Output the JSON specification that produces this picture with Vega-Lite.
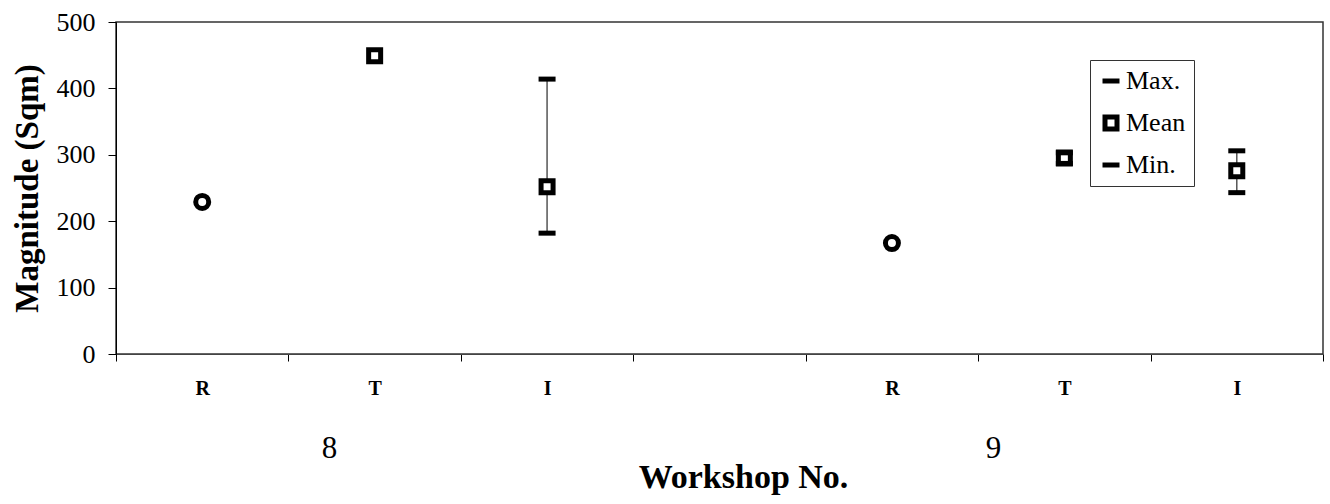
{
  "$schema": "https://vega.github.io/schema/vega-lite/v6.json",
  "width": 1207,
  "height": 332,
  "autosize": "none",
  "padding": {"left": 116, "top": 22, "right": 7, "bottom": 150},
  "background": "white",
  "config": {
    "font": "Liberation Serif",
    "view": {"stroke": "#333", "strokeWidth": 1.5}
  },
  "datasets": {
    "stats": [
      {"slot": "8R", "stat": "Value", "value": 229},
      {"slot": "8T", "stat": "Mean", "value": 449},
      {"slot": "8I", "stat": "Max.", "value": 414},
      {"slot": "8I", "stat": "Mean", "value": 252},
      {"slot": "8I", "stat": "Min.", "value": 182},
      {"slot": "9R", "stat": "Value", "value": 167},
      {"slot": "9T", "stat": "Max.", "value": 303},
      {"slot": "9T", "stat": "Mean", "value": 295},
      {"slot": "9T", "stat": "Min.", "value": 287},
      {"slot": "9I", "stat": "Max.", "value": 306},
      {"slot": "9I", "stat": "Mean", "value": 276},
      {"slot": "9I", "stat": "Min.", "value": 243}
    ],
    "workshops": [
      {"workshop": "8", "center": 1.235},
      {"workshop": "9", "center": 5.086}
    ]
  },
  "layer": [
    {
      "data": {"name": "stats"},
      "encoding": {
        "x": {
          "field": "slot",
          "type": "nominal",
          "scale": {"type": "band", "domain": ["8R", "8T", "8I", "gap", "9R", "9T", "9I"], "paddingInner": 0, "paddingOuter": 0},
          "axis": {
            "title": null,
            "orient": "bottom",
            "tickBand": "extent",
            "tickSize": 7,
            "tickColor": "black",
            "domainColor": "#444",
            "grid": false,
            "labelAngle": 0,
            "labelFont": "Liberation Serif",
            "labelFontSize": 20,
            "labelFontWeight": "bold",
            "labelColor": "black",
            "labelBaseline": "alphabetic",
            "labelPadding": 33,
            "labelExpr": "indexof(['8R','8T','8I','9R','9T','9I'], datum.value) < 0 ? '' : substring(datum.value, 1, 2)"
          }
        },
        "y": {
          "field": "value",
          "type": "quantitative",
          "scale": {"domain": [0, 500], "nice": false},
          "axis": {
            "title": "Magnitude (Sqm)",
            "values": [0, 100, 200, 300, 400, 500],
            "grid": false,
            "tickSize": 8,
            "tickColor": "black",
            "domainColor": "black",
            "labelFont": "Liberation Serif",
            "labelFontSize": 26,
            "labelColor": "black",
            "labelPadding": 13,
            "titleFont": "Liberation Serif",
            "titleFontSize": 33,
            "titleFontWeight": "bold",
            "titleColor": "black",
            "titlePadding": 12
          }
        }
      },
      "layer": [
        {
          "transform": [
            {"filter": "datum.stat === 'Max.' || datum.stat === 'Min.'"},
            {"aggregate": [{"op": "min", "field": "value", "as": "lo"}, {"op": "max", "field": "value", "as": "hi"}], "groupby": ["slot"]}
          ],
          "mark": {"type": "rule", "color": "#555", "strokeWidth": 1.5},
          "encoding": {
            "y": {"field": "lo", "type": "quantitative"},
            "y2": {"field": "hi"}
          }
        },
        {
          "transform": [{"filter": "datum.stat === 'Mean'"}],
          "mark": {"type": "point", "filled": true, "color": "white", "shape": "square", "size": 200, "opacity": 1, "strokeWidth": 0}
        },
        {
          "mark": {"type": "point", "filled": false, "color": "black", "strokeWidth": 5, "size": 289, "opacity": 1},
          "encoding": {
            "shape": {
              "field": "stat",
              "type": "nominal",
              "scale": {
                "domain": ["Max.", "Mean", "Min.", "Value"],
                "range": [
                  "M-1,0H1",
                  "M-0.706,-0.706H0.706V0.706H-0.706Z",
                  "M-1,0H1",
                  "M-0.765,0A0.765,0.765,0,1,1,0.765,0A0.765,0.765,0,1,1,-0.765,0Z"
                ]
              },
              "legend": {
                "title": null,
                "values": ["Max.", "Mean", "Min."],
                "orient": "none",
                "legendX": 974,
                "legendY": 38,
                "labelFont": "Liberation Serif",
                "labelFontSize": 26,
                "labelColor": "black",
                "labelOffset": 2,
                "symbolSize": 289,
                "symbolStrokeWidth": 5,
                "strokeColor": "#333",
                "fillColor": "white",
                "padding": 8,
                "rowPadding": 12
              }
            }
          }
        }
      ]
    },
    {
      "data": {"name": "workshops"},
      "mark": {"type": "point", "opacity": 0},
      "encoding": {
        "x": {
          "field": "center",
          "type": "quantitative",
          "scale": {"domain": [0, 7], "nice": false, "zero": false},
          "axis": {
            "orient": "bottom",
            "values": [1.235, 5.086],
            "labelExpr": "datum.value < 3 ? '8' : '9'",
            "domain": false,
            "ticks": false,
            "tickSize": 0,
            "grid": false,
            "labelFont": "Liberation Serif",
            "labelFontSize": 31,
            "labelColor": "black",
            "labelBaseline": "alphabetic",
            "labelPadding": 103,
            "title": "Workshop No.",
            "titleFont": "Liberation Serif",
            "titleFontSize": 34,
            "titleFontWeight": "bold",
            "titleColor": "black",
            "titleBaseline": "alphabetic",
            "titleX": 627,
            "titleY": 133
          }
        }
      }
    }
  ],
  "resolve": {"scale": {"x": "independent"}, "axis": {"x": "independent"}}
}
